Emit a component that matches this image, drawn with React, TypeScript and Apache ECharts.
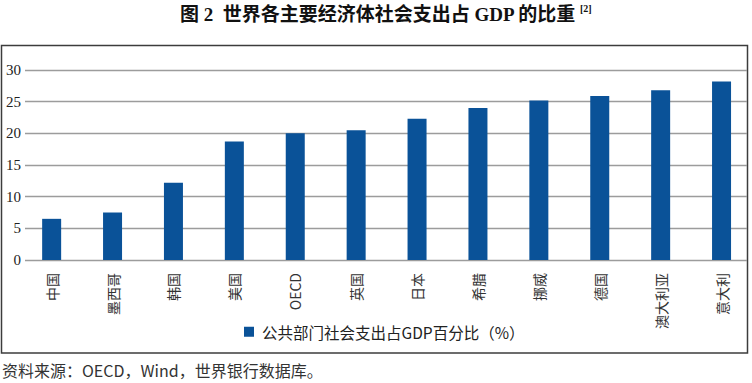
import React, { useEffect, useRef } from "react";
import * as echarts from "echarts";

const categories = ["中国", "墨西哥", "韩国", "美国", "OECD", "英国", "日本", "希腊", "挪威", "德国", "澳大利亚", "意大利"];
const values = [6.5, 7.5, 12.2, 18.7, 20.0, 20.5, 22.3, 24.0, 25.2, 25.9, 26.8, 28.2];
const seriesName = "公共部门社会支出占GDP百分比（%）";
const titleText = "图 2  世界各主要经济体社会支出占 GDP 的比重";
const titleNote = "[2]";
const sourceText = "资料来源：OECD，Wind，世界银行数据库。";

const CJK = "'Noto Sans CJK SC', 'Noto Sans', sans-serif";
const SERIF = "'Liberation Serif', 'DejaVu Serif', 'Noto Sans CJK SC', serif";

export default function App() {
  const ref = useRef<HTMLDivElement>(null);
  useEffect(() => {
    if (!ref.current) return;
    const chart = echarts.init(ref.current, undefined, { renderer: "svg" });
    chart.setOption({
      animation: false,
      backgroundColor: "#ffffff",
      grid: [
        { left: 25, width: 722, top: 70, height: 190 },
        { left: 21.2, width: 738.6, top: 70, height: 190 },
      ],
      xAxis: [
        { gridIndex: 0, type: "category", data: categories, show: false },
        {
          gridIndex: 1,
          type: "category",
          data: categories,
          axisLine: { show: false },
          axisTick: { show: false },
          axisLabel: {
            rotate: 90,
            margin: 13,
            fontSize: 14,
            color: "#333",
            fontFamily: CJK,
            interval: 0,
          },
        },
      ],
      yAxis: [
        {
          gridIndex: 0,
          type: "value",
          min: 0,
          max: 30,
          interval: 5,
          axisLine: { show: false },
          axisTick: { show: false },
          axisLabel: { fontSize: 15, color: "#222", fontFamily: SERIF, margin: 4 },
          splitLine: { lineStyle: { color: "#9c9c9c", width: 1.3 } },
        },
        {
          gridIndex: 1,
          type: "value",
          min: 0,
          max: 30,
          interval: 5,
          show: false,
          splitLine: { show: false },
        },
      ],
      legend: {
        data: [seriesName],
        icon: "rect",
        itemWidth: 10,
        itemHeight: 10,
        itemGap: 8,
        left: 239,
        top: 319,
        textStyle: { fontSize: 15.5, color: "#222", fontFamily: CJK, padding: [0, 0, 0, 3] },
      },
      series: [
        {
          name: seriesName,
          type: "bar",
          xAxisIndex: 1,
          yAxisIndex: 1,
          data: values,
          barWidth: 19,
          itemStyle: { color: "#0a5298" },
        },
      ],
      graphic: [
        {
          type: "rect",
          shape: { x: 1.5, y: 45.5, width: 746, height: 307.5 },
          style: { fill: "none", stroke: "#3c3c3c", lineWidth: 1.5 },
          z: 0,
        },
        {
          type: "text",
          x: 180,
          y: 14,
          style: {
            text: titleText,
            font: `bold 19px ${SERIF}`,
            fill: "#111",
            verticalAlign: "middle",
          },
        },
        {
          type: "text",
          x: 580,
          y: 8,
          style: {
            text: titleNote,
            font: `bold 10px ${SERIF}`,
            fill: "#111",
            verticalAlign: "middle",
          },
        },
        {
          type: "text",
          x: 2,
          y: 370,
          style: {
            text: sourceText,
            font: `16px ${CJK}`,
            fill: "#333",
            verticalAlign: "middle",
          },
        },
      ],
    });
    return () => chart.dispose();
  }, []);
  return (
    <div
      ref={ref}
      style={{ position: "absolute", left: 0, top: 0, width: 752, height: 383, background: "#fff" }}
    />
  );
}
